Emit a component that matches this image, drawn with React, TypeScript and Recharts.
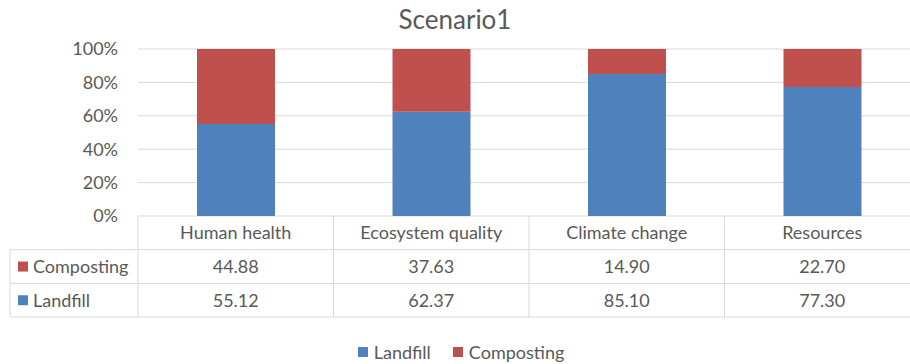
import React from 'react';
import { BarChart, Bar, XAxis, YAxis, CartesianGrid } from 'recharts';

// Impact categories and the share of each treatment route (percent)
const categories = ['Human health', 'Ecosystem quality', 'Climate change', 'Resources'];
const landfill = [55.12, 62.37, 85.1, 77.3];
const composting = [44.88, 37.63, 14.9, 22.7];
const yTicks = [0, 0.2, 0.4, 0.6, 0.8, 1];

const BLUE = '#4F81BD';
const RED = '#C0504D';
const TEXT = '#595959';
const GRID = '#D9D9D9';
const FONT = 'Lato, "Open Sans", sans-serif';

const data = categories.map((name, i) => ({
  name,
  Landfill: landfill[i],
  Composting: composting[i],
}));

// rows of the data table under the axis, top row first
const tableRows = [
  { key: 'Composting', color: RED, values: composting },
  { key: 'Landfill', color: BLUE, values: landfill },
];

const CHART_W = 920;
const CHART_H = 364;
const MARGIN = { top: 49, right: 0, left: 0, bottom: 0 };
const Y_AXIS_W = 138;
const X_AXIS_H = 148;
const BAND = (CHART_W - MARGIN.left - MARGIN.right - Y_AXIS_W) / categories.length;
const ROW_H = 33.7;
const TABLE_LEFT = 10;
const FS = 18;

const TableTick = (props: any) => {
  const { x, y, payload, index } = props;
  const i = payload?.index ?? index;
  const right = x + BAND / 2;
  const left = x - BAND / 2;
  const bottom = y + ROW_H * 3;
  return (
    <g fontFamily={FONT} fontSize={FS} fill={TEXT}>
      {i === 0 && (
        <g>
          <line x1={left} y1={y} x2={left} y2={bottom} stroke={GRID} />
          <line x1={TABLE_LEFT} y1={y + ROW_H} x2={TABLE_LEFT} y2={bottom} stroke={GRID} />
          {[1, 2, 3].map((r) => (
            <line key={r} x1={TABLE_LEFT} y1={y + ROW_H * r} x2={CHART_W} y2={y + ROW_H * r} stroke={GRID} />
          ))}
          {tableRows.map((row, r) => {
            const cy = y + ROW_H * (r + 1.5);
            return (
              <g key={row.key}>
                <rect x={18} y={cy - 5} width={10} height={10} fill={row.color} />
                <text x={33} y={cy} dy="0.36em" textAnchor="start" fill={TEXT}>
                  {row.key}
                </text>
              </g>
            );
          })}
        </g>
      )}
      <line x1={right} y1={y} x2={right} y2={bottom} stroke={GRID} />
      <text x={x} y={y + ROW_H * 0.5} dy="0.36em" textAnchor="middle" fill={TEXT}>
        {payload.value}
      </text>
      {tableRows.map((row, r) => (
        <text key={row.key} x={x} y={y + ROW_H * (r + 1.5)} dy="0.36em" textAnchor="middle" fill={TEXT}>
          {row.values[i].toFixed(2)}
        </text>
      ))}
    </g>
  );
};

const legendItems = [
  { key: 'Landfill', color: BLUE },
  { key: 'Composting', color: RED },
];

export default function App() {
  return (
    <div
      style={{
        position: 'absolute',
        left: 0,
        top: 0,
        width: 910,
        height: 364,
        overflow: 'hidden',
        background: '#fff',
        fontFamily: FONT,
      }}
    >
      <div
        style={{
          position: 'absolute',
          top: 4,
          left: 0,
          width: 910,
          textAlign: 'center',
          fontSize: 26,
          color: TEXT,
          lineHeight: '30px',
        }}
      >
        Scenario1
      </div>
      <BarChart
        width={CHART_W}
        height={CHART_H}
        data={data}
        margin={MARGIN}
        stackOffset="expand"
        barSize={78}
      >
        <CartesianGrid vertical={false} stroke={GRID} strokeWidth={1} />
        <YAxis
          width={Y_AXIS_W}
          domain={[0, 1]}
          ticks={yTicks}
          interval={0}
          axisLine={false}
          tickLine={false}
          tickSize={0}
          tickMargin={20}
          tick={{ fill: TEXT, fontSize: FS, fontFamily: FONT }}
          tickFormatter={(v: number) => `${Math.round(v * 100)}%`}
        />
        <XAxis
          dataKey="name"
          height={X_AXIS_H}
          interval={0}
          axisLine={false}
          tickLine={false}
          tickSize={0}
          tickMargin={0}
          tick={<TableTick />}
        />
        <Bar dataKey="Landfill" stackId="a" fill={BLUE} isAnimationActive={false} />
        <Bar dataKey="Composting" stackId="a" fill={RED} isAnimationActive={false} />
      </BarChart>
      <div
        style={{
          position: 'absolute',
          top: 341,
          left: 6,
          width: 910,
          display: 'flex',
          justifyContent: 'center',
          gap: 22,
          fontSize: FS,
          color: TEXT,
          lineHeight: '22px',
        }}
      >
        {legendItems.map((it) => (
          <span key={it.key} style={{ display: 'inline-flex', alignItems: 'center' }}>
            <span
              style={{ display: 'inline-block', width: 10, height: 10, background: it.color, marginRight: 6 }}
            />
            {it.key}
          </span>
        ))}
      </div>
    </div>
  );
}
